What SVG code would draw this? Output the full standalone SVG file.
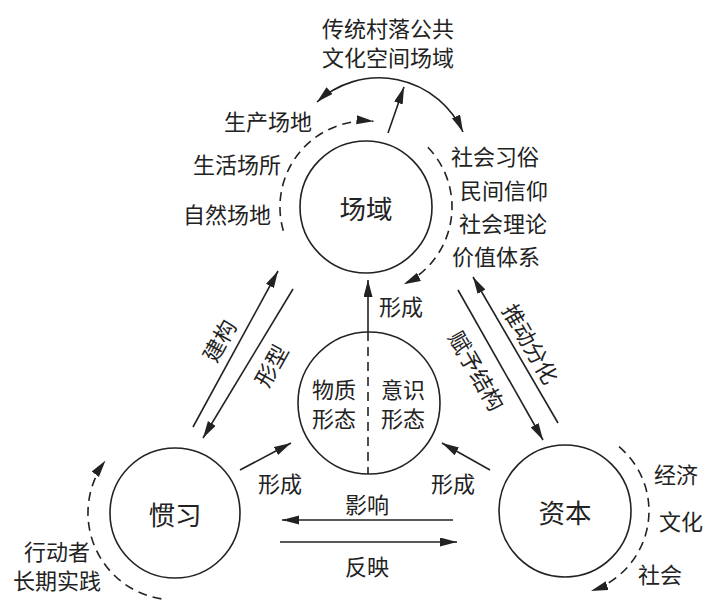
<svg xmlns="http://www.w3.org/2000/svg" width="711" height="600" viewBox="0 0 711 600">
<style>
text{font-family:"Noto Sans CJK SC","Noto Sans",sans-serif;fill:#222;text-anchor:middle;dominant-baseline:central}
.lb{font-size:22px}
.nm{font-size:26.5px}
.node{fill:#fff;stroke:#222;stroke-width:1.6}
.ln{fill:none;stroke:#222;stroke-width:1.6}
.ds{fill:none;stroke:#222;stroke-width:1.6;stroke-dasharray:9 6}
.ar{marker-end:url(#ah)}
</style>
<defs>
<marker id="ah" markerUnits="userSpaceOnUse" markerWidth="18" markerHeight="10" refX="17" refY="4.5" orient="auto-start-reverse">
<path d="M0,0 L17,4.5 L0,9 z" fill="#222"/>
</marker>
</defs>
<g id="connectors">
<path class="ln" d="M 317 102 A 92 92 0 0 1 463 132" marker-start="url(#ah)" marker-end="url(#ah)"/>
<line class="ln ar" x1="388" y1="133" x2="404" y2="87"/>
<path class="ds ar" d="M 283.3 230.7 A 86 86 0 0 1 373.5 121.3"/>
<path class="ds ar" d="M 427.9 147.3 A 86 86 0 0 1 403.7 284.3"/>
<line class="ln ar" x1="368" y1="332" x2="368" y2="280"/>
<line class="ln ar" x1="193" y1="427" x2="278" y2="271"/>
<line class="ln ar" x1="293" y1="289" x2="203" y2="438"/>
<line class="ln ar" x1="558" y1="423" x2="473" y2="277"/>
<line class="ln ar" x1="458" y1="290" x2="543" y2="440"/>
<line class="ln ar" x1="240" y1="470" x2="291" y2="443"/>
<line class="ln ar" x1="490" y1="470" x2="442" y2="443"/>
<line class="ln ar" x1="453" y1="520" x2="282" y2="520"/>
<line class="ln ar" x1="280" y1="542" x2="457" y2="542"/>
<path class="ds ar" d="M 161.4 598.9 A 87 87 0 0 1 105.5 460.6"/>
<path class="ds ar" d="M 619 446.7 A 84 84 0 0 1 591 590.9"/>
</g>
<g id="top-label">
<text class="lb" x="388" y="27">传统村落公共</text>
<text class="lb" x="388" y="56">文化空间场域</text>
</g>
<g id="node-field">
<circle class="node" cx="366" cy="207" r="66"/>
<text class="nm" x="366" y="207">场域</text>
</g>
<g id="field-left-labels">
<text class="lb" x="268" y="120">生产场地</text>
<text class="lb" x="237" y="163">生活场所</text>
<text class="lb" x="227" y="213">自然场地</text>
</g>
<g id="field-right-labels">
<text class="lb" x="495" y="155">社会习俗</text>
<text class="lb" x="504" y="189">民间信仰</text>
<text class="lb" x="503" y="222">社会理论</text>
<text class="lb" x="496" y="255">价值体系</text>
</g>
<g id="node-form">
<circle class="node" cx="369" cy="403" r="71"/>
<line class="ds" x1="368" y1="332" x2="368" y2="474"/>
<text class="lb" x="334" y="388">物质</text>
<text class="lb" x="334" y="417">形态</text>
<text class="lb" x="403" y="388">意识</text>
<text class="lb" x="403" y="417">形态</text>
</g>
<g id="node-habitus">
<circle class="node" cx="175" cy="513" r="65"/>
<text class="nm" x="175" y="513">惯习</text>
</g>
<g id="node-capital">
<circle class="node" cx="565" cy="511" r="66"/>
<text class="nm" x="565" y="511">资本</text>
</g>
<g id="edge-labels">
<text class="lb" x="401" y="305">形成</text>
<text class="lb" transform="translate(218,340) rotate(-61)">建构</text>
<text class="lb" transform="translate(270,365) rotate(-61)">形型</text>
<text class="lb" transform="translate(532,343) rotate(60)">推动分化</text>
<text class="lb" transform="translate(478,370) rotate(60)">赋予结构</text>
<text class="lb" x="280" y="482">形成</text>
<text class="lb" x="453" y="482">形成</text>
<text class="lb" x="367" y="503">影响</text>
<text class="lb" x="367" y="565">反映</text>
</g>
<g id="habitus-labels">
<text class="lb" x="57" y="550">行动者</text>
<text class="lb" x="57" y="579">长期实践</text>
</g>
<g id="capital-labels">
<text class="lb" x="676" y="473">经济</text>
<text class="lb" x="681" y="520">文化</text>
<text class="lb" x="660" y="573">社会</text>
</g>
</svg>
